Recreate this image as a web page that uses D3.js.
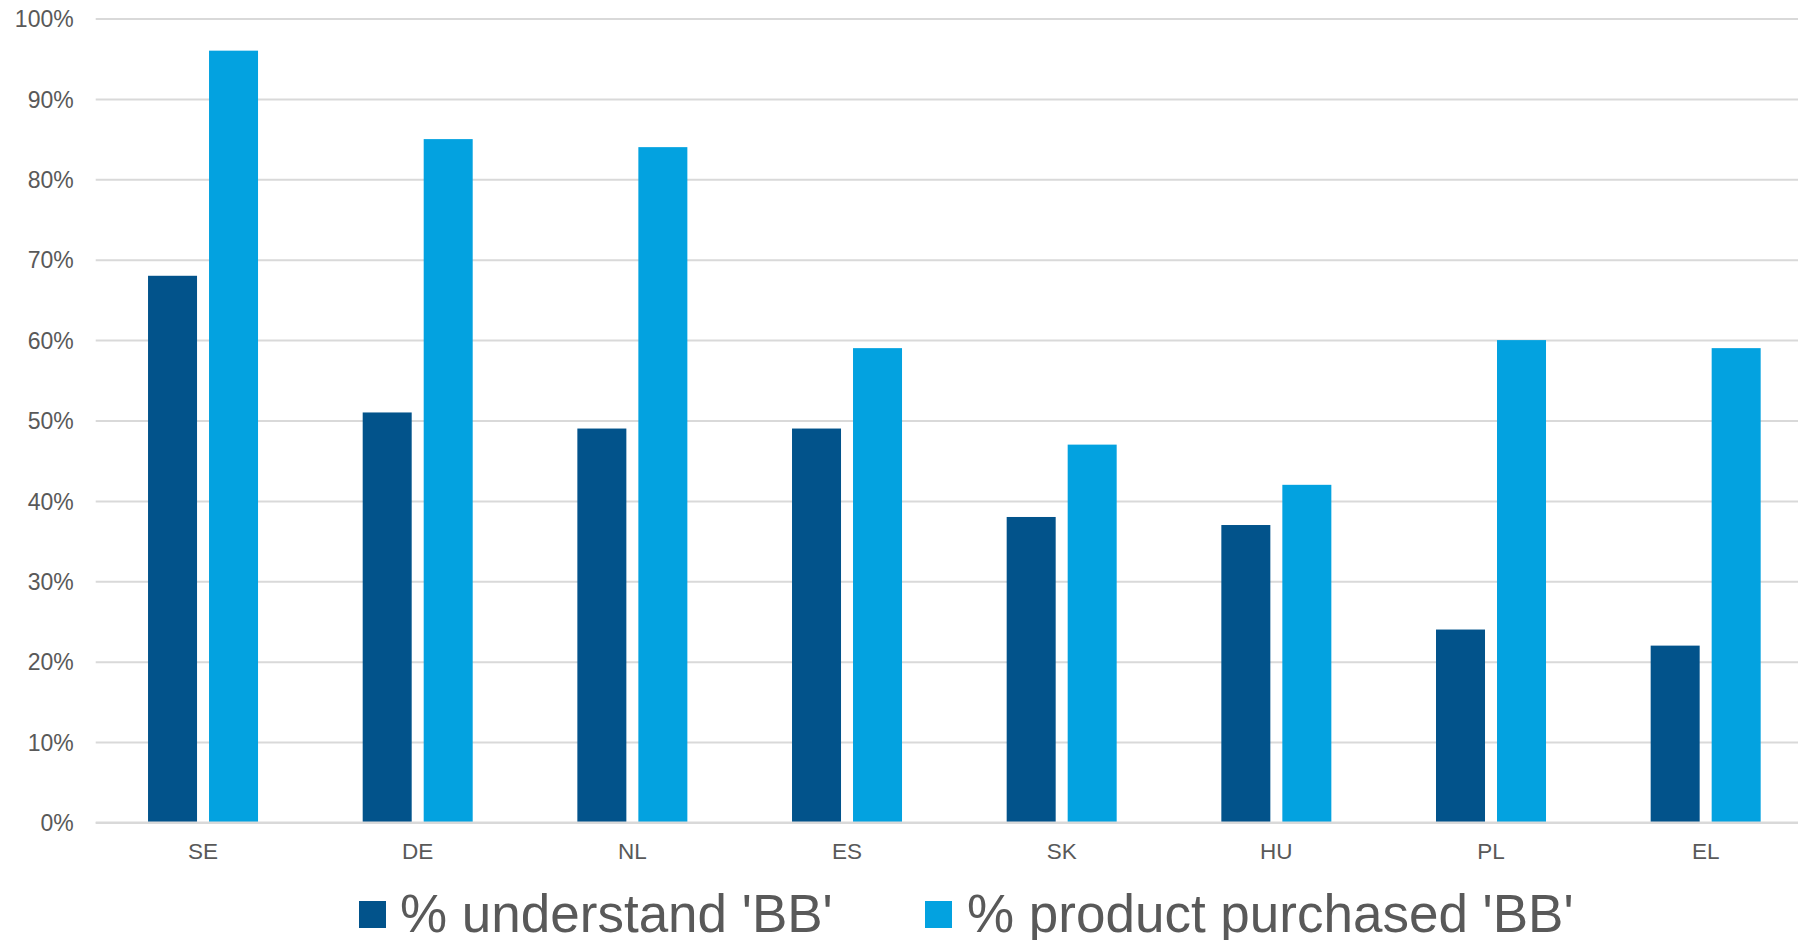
<!DOCTYPE html>
<html>
<head>
<meta charset="utf-8">
<script src="https://cdn.jsdelivr.net/npm/d3@7"></script>
<style>
  html, body { margin: 0; padding: 0; background: #ffffff; }
  svg { display: block; font-family: "Liberation Sans", Arial, sans-serif; }
</style>
</head>
<body>
<svg id="chart" width="1798" height="940"></svg>
<script>
const categories = ["SE", "DE", "NL", "ES", "SK", "HU", "PL", "EL"];
const seriesNames = ["% understand 'BB'", "% product purchased 'BB'"];
const understand = [0.68, 0.51, 0.49, 0.49, 0.38, 0.37, 0.24, 0.22];
const purchased  = [0.96, 0.85, 0.84, 0.59, 0.47, 0.42, 0.60, 0.59];
const yTicks = [0, 0.1, 0.2, 0.3, 0.4, 0.5, 0.6, 0.7, 0.8, 0.9, 1.0];
const colors = ["#02538B", "#03A2E0"];

const seriesValues = [understand, purchased];
const svg = d3.select("#chart");

const plotLeft = 95.7, plotRight = 1813, plotTop = 18.5, plotBottom = 822.5;

const x = d3.scaleBand().domain(categories).range([plotLeft, plotRight]).paddingInner(0).paddingOuter(0);
const bw = x.bandwidth();
const barW = 49, gap = 12;
const groupW = barW * 2 + gap;
const xSub = d3.scaleBand().domain(seriesNames)
  .range([(bw - groupW) / 2, (bw + groupW) / 2])
  .paddingInner(gap / (barW + gap)).paddingOuter(0);

const y = d3.scaleLinear().domain([0, 1]).range([plotBottom, plotTop]);

// Gridlines via axis
const yAxis = d3.axisLeft(y).tickValues(yTicks).tickFormat(d3.format(".0%")).tickSize(-(1798 - plotLeft)).tickPadding(22);
const gy = svg.append("g").attr("transform", `translate(${plotLeft},0)`).call(yAxis);
gy.select(".domain").remove();
gy.selectAll(".tick line").attr("stroke", "#d9d9d9").attr("stroke-width", 2);
gy.selectAll(".tick text").attr("fill", "#595959").attr("font-size", 23).attr("dy", "0.36em")
  .attr("font-family", "Liberation Sans, Arial, sans-serif");

// Bars
const groups = svg.append("g").selectAll("g").data(categories).join("g")
  .attr("transform", d => `translate(${x(d)},0)`);
seriesNames.forEach((s, si) => {
  groups.append("rect")
    .attr("x", xSub(s))
    .attr("width", xSub.bandwidth())
    .attr("y", (d, i) => y(seriesValues[si][i]))
    .attr("height", (d, i) => y(0) - y(seriesValues[si][i]))
    .attr("fill", colors[si]);
});

// Baseline
svg.append("line").attr("x1", plotLeft).attr("x2", 1798).attr("y1", y(0)).attr("y2", y(0))
  .attr("stroke", "#d9d9d9").attr("stroke-width", 2);

// X axis labels
const xAxis = d3.axisBottom(x).tickSize(0).tickPadding(21);
const gx = svg.append("g").attr("transform", `translate(0,${plotBottom})`).call(xAxis);
gx.select(".domain").remove();
gx.selectAll(".tick text").attr("fill", "#595959").attr("font-size", 22.5)
  .attr("font-family", "Liberation Sans, Arial, sans-serif");

// Legend
const legendItems = [
  { name: seriesNames[0], color: colors[0], sx: 359, tx: 400 },
  { name: seriesNames[1], color: colors[1], sx: 925, tx: 967 }
];
const lg = svg.append("g");
legendItems.forEach(it => {
  lg.append("rect").attr("x", it.sx).attr("y", 901).attr("width", 27).attr("height", 27).attr("fill", it.color);
  lg.append("text").attr("x", it.tx).attr("y", 932).attr("font-size", 53).attr("fill", "#595959").text(it.name);
});
</script>
</body>
</html>
